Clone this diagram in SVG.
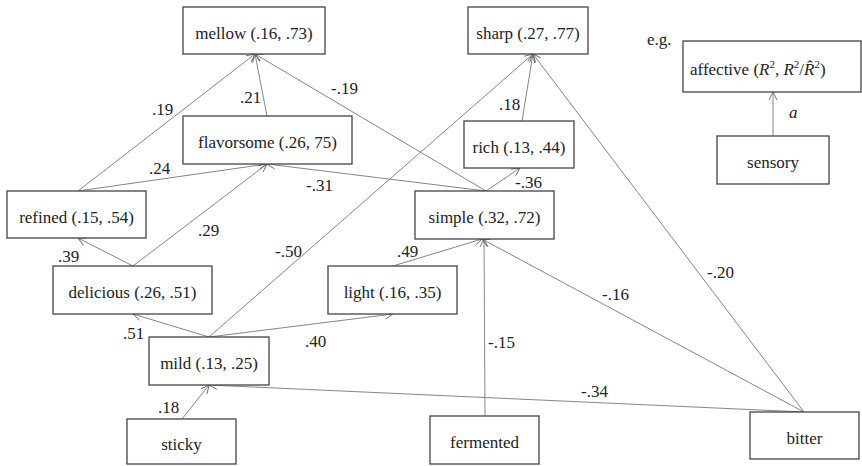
<svg xmlns="http://www.w3.org/2000/svg" width="862" height="466" viewBox="0 0 862 466">
<defs>
<marker id="arr" markerWidth="10" markerHeight="10" refX="9" refY="5" orient="auto" markerUnits="userSpaceOnUse">
<path d="M1,1 L9,5 L1,9" fill="none" stroke="#666" stroke-width="0.9"/>
</marker>
</defs>
<style>
.box{fill:#fff;stroke:#444;stroke-width:1.3}
.t{font-family:Liberation Serif,serif;font-size:17px;fill:#222}
.c{text-anchor:middle}
.e{fill:none;stroke:#777;stroke-width:0.9;marker-end:url(#arr)}
.m{font-style:italic}
</style>
<rect width="862" height="466" fill="#fff"/>
<g id="connectors">
<line class="e" x1="78" y1="191" x2="255" y2="54"/>
<line class="e" x1="267" y1="116" x2="255" y2="54"/>
<line class="e" x1="486" y1="191" x2="255" y2="54"/>
<line class="e" x1="78" y1="191" x2="267" y2="164"/>
<line class="e" x1="486" y1="191" x2="267" y2="164"/>
<line class="e" x1="133" y1="266" x2="267" y2="164"/>
<line class="e" x1="133" y1="266" x2="78" y2="238"/>
<line class="e" x1="209" y1="337" x2="133" y2="314"/>
<line class="e" x1="209" y1="337" x2="393" y2="314"/>
<line class="e" x1="209" y1="337" x2="533" y2="54"/>
<line class="e" x1="393" y1="266" x2="482" y2="239"/>
<line class="e" x1="522" y1="121" x2="533" y2="54"/>
<line class="e" x1="486" y1="191" x2="520" y2="168"/>
<line class="e" x1="804" y1="412" x2="533" y2="54"/>
<line class="e" x1="804" y1="412" x2="482" y2="239"/>
<line class="e" x1="485" y1="416" x2="484" y2="239"/>
<line class="e" x1="804" y1="412" x2="209" y2="385"/>
<line class="e" x1="182" y1="419" x2="209" y2="385"/>
<line class="e" x1="773" y1="136" x2="773" y2="92"/>
</g>
<g id="edge-labels" font-family="Liberation Serif" font-size="17" fill="#222">
<text x="152" y="115">.19</text>
<text x="240" y="103">.21</text>
<text x="331" y="94">-.19</text>
<text x="149" y="174">.24</text>
<text x="306" y="191">-.31</text>
<text x="198" y="236">.29</text>
<text x="58" y="262">.39</text>
<text x="123" y="339">.51</text>
<text x="305" y="347">.40</text>
<text x="275" y="257">-.50</text>
<text x="397" y="257">.49</text>
<text x="499" y="110">.18</text>
<text x="515" y="188">-.36</text>
<text x="707" y="278">-.20</text>
<text x="602" y="300">-.16</text>
<text x="488" y="348">-.15</text>
<text x="581" y="397">-.34</text>
<text x="158" y="413">.18</text>
<text x="789" y="118" font-style="italic">a</text>
<text x="647" y="45">e.g.</text>
</g>
<g id="mellow"><rect class="box" x="183" y="7" width="142" height="47"/><text class="t c" x="254" y="38.5">mellow (.16, .73)</text></g>
<g id="flavorsome"><rect class="box" x="183" y="116" width="169" height="48"/><text class="t c" x="267.5" y="148">flavorsome (.26, 75)</text></g>
<g id="refined"><rect class="box" x="7" y="191" width="139" height="47"/><text class="t c" x="76.5" y="222.5">refined (.15, .54)</text></g>
<g id="sharp"><rect class="box" x="468" y="7" width="120" height="47"/><text class="t c" x="528" y="38.5">sharp (.27, .77)</text></g>
<g id="rich"><rect class="box" x="464" y="121" width="110" height="47"/><text class="t c" x="519" y="152.5">rich (.13, .44)</text></g>
<g id="simple"><rect class="box" x="415" y="191" width="139" height="48"/><text class="t c" x="484.5" y="223">simple (.32, .72)</text></g>
<g id="affective"><rect class="box" x="683" y="41" width="178" height="51"/><text class="t" x="690" y="75">affective (<tspan class="m">R</tspan><tspan font-size="11" dy="-7">2</tspan><tspan dy="7">, </tspan><tspan class="m">R</tspan><tspan font-size="11" dy="-7">2</tspan><tspan dy="7">/</tspan><tspan class="m">R̂</tspan><tspan font-size="11" dy="-7">2</tspan><tspan dy="7">)</tspan></text></g>
<g id="sensory"><rect class="box" x="717" y="136" width="112" height="48"/><text class="t c" x="773" y="168">sensory</text></g>
<g id="delicious"><rect class="box" x="53" y="266" width="159" height="48"/><text class="t c" x="132.5" y="298">delicious (.26, .51)</text></g>
<g id="light"><rect class="box" x="328" y="266" width="129" height="48"/><text class="t c" x="392.5" y="298">light (.16, .35)</text></g>
<g id="mild"><rect class="box" x="149" y="337" width="120" height="48"/><text class="t c" x="209" y="369">mild (.13, .25)</text></g>
<g id="sticky"><rect class="box" x="127" y="419" width="109" height="45"/><text class="t c" x="181.5" y="450">sticky</text></g>
<g id="fermented"><rect class="box" x="430" y="416" width="109" height="48"/><text class="t c" x="484.5" y="448">fermented</text></g>
<g id="bitter"><rect class="box" x="750" y="412" width="109" height="47"/><text class="t c" x="804.5" y="443.5">bitter</text></g>
</svg>
